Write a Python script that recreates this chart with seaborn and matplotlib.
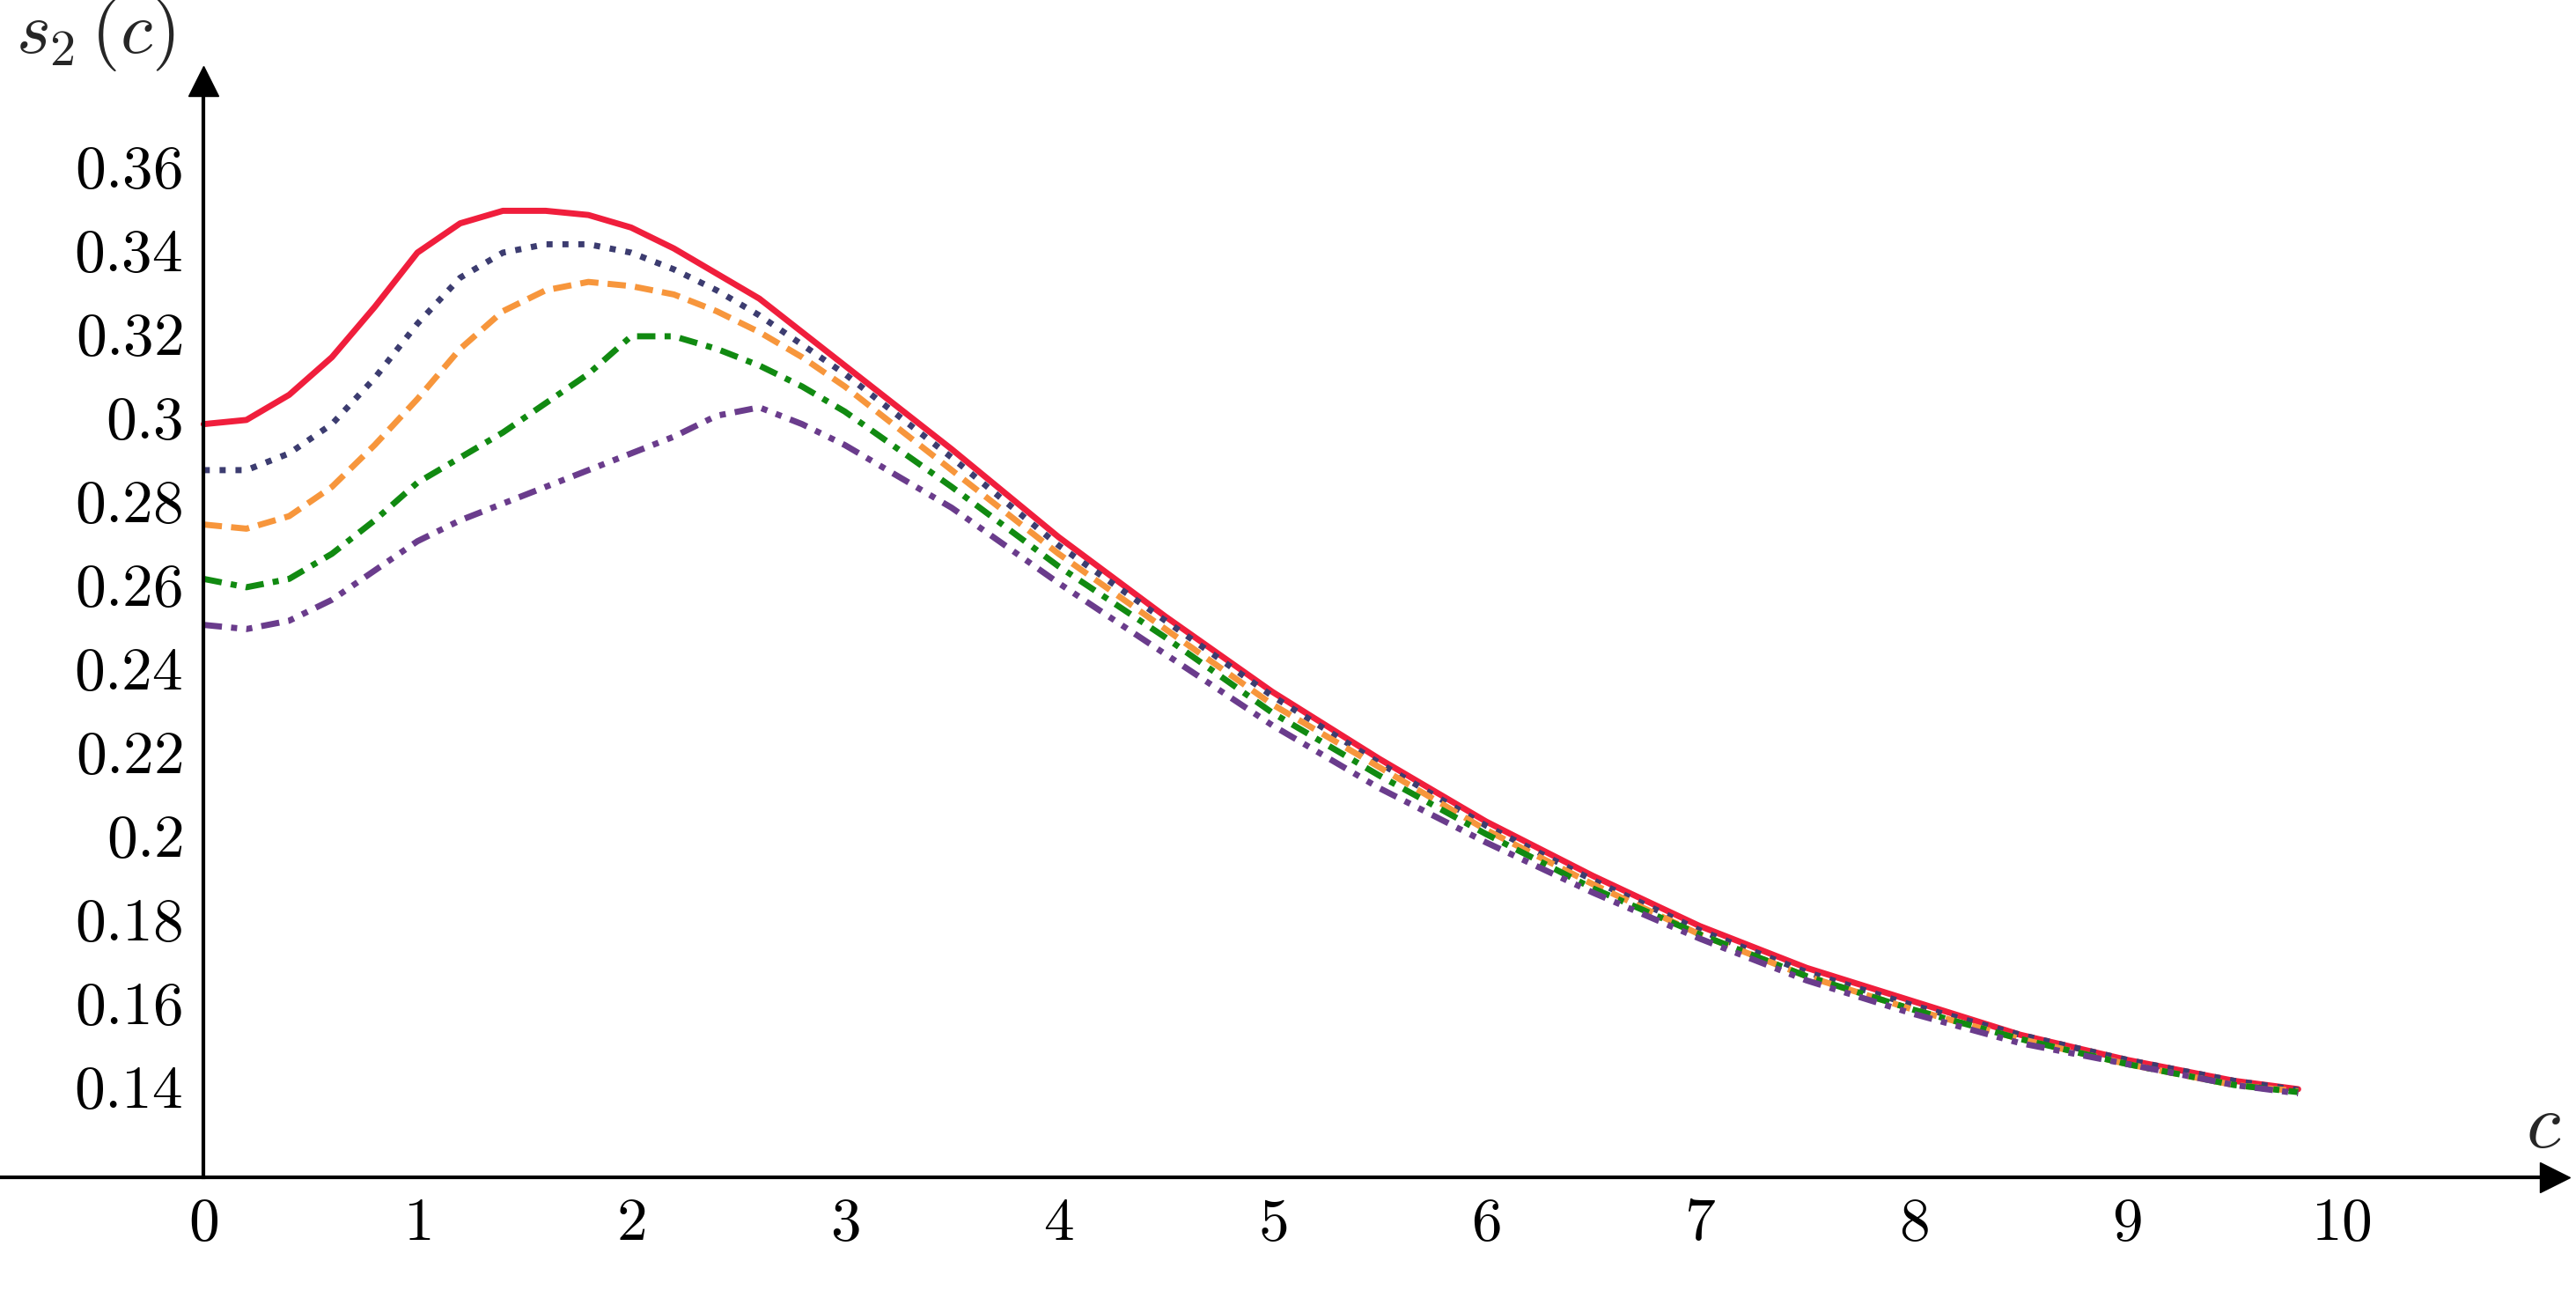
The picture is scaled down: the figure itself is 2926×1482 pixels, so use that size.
import numpy as np
import pandas as pd
import matplotlib
matplotlib.use("Agg")
import matplotlib.pyplot as plt
import seaborn as sns

sns.set_theme(style="white")
plt.rcParams['font.family'] = ['DejaVu Serif']
plt.rcParams['mathtext.fontset'] = 'cm'

c = [0, 0.2, 0.4, 0.6, 0.8, 1.0, 1.2, 1.4, 1.6, 1.8, 2.0, 2.2, 2.4, 2.6, 2.8, 3.0,
     3.5, 4, 4.5, 5, 5.5, 6, 6.5, 7, 7.5, 8, 8.5, 9, 9.5, 9.8]
s_red = [0.298, 0.299, 0.305, 0.314, 0.326, 0.339, 0.346, 0.349, 0.349, 0.348, 0.345, 0.340, 0.334, 0.328, 0.320, 0.312,
         0.292, 0.271, 0.252, 0.234, 0.218, 0.203, 0.190, 0.178, 0.168, 0.160, 0.152, 0.146, 0.141, 0.139]
s_navy = [0.287, 0.287, 0.291, 0.298, 0.309, 0.322, 0.333, 0.339, 0.341, 0.341, 0.339, 0.335, 0.330, 0.324, 0.317, 0.310,
          0.290, 0.269, 0.251, 0.233, 0.217, 0.202, 0.189, 0.177, 0.167, 0.159, 0.152, 0.146, 0.141, 0.1388]
s_orange = [0.274, 0.273, 0.276, 0.283, 0.293, 0.304, 0.316, 0.325, 0.330, 0.332, 0.331, 0.329, 0.325, 0.320, 0.314, 0.307,
            0.287, 0.267, 0.249, 0.231, 0.216, 0.201, 0.188, 0.176, 0.166, 0.158, 0.151, 0.145, 0.140, 0.1385]
s_green = [0.261, 0.259, 0.261, 0.267, 0.275, 0.284, 0.290, 0.296, 0.303, 0.310, 0.319, 0.319, 0.316, 0.312, 0.307, 0.301,
           0.283, 0.264, 0.247, 0.229, 0.214, 0.200, 0.187, 0.176, 0.166, 0.158, 0.151, 0.145, 0.140, 0.1383]
s_purple = [0.250, 0.249, 0.251, 0.256, 0.263, 0.270, 0.275, 0.279, 0.283, 0.287, 0.291, 0.295, 0.300, 0.302, 0.298, 0.293,
            0.278, 0.260, 0.243, 0.226, 0.211, 0.198, 0.186, 0.175, 0.165, 0.157, 0.150, 0.145, 0.140, 0.138]

series = [("red", s_red, "#f01e3c", "-"),
          ("navy", s_navy, "#3c3c70", (0, (1, 1.6))),
          ("orange", s_orange, "#f7963c", (0, (3, 1.5))),
          ("green", s_green, "#118a11", (0, (3, 1.5, 1, 1.5))),
          ("purple", s_purple, "#6a3c8c", (0, (3, 1.5, 1, 1.5, 1, 1.5)))]

x_ticks = [0, 1, 2, 3, 4, 5, 6, 7, 8, 9, 10]
y_ticks = [0.14, 0.16, 0.18, 0.20, 0.22, 0.24, 0.26, 0.28, 0.30, 0.32, 0.34, 0.36]
y_labels = ["0.14", "0.16", "0.18", "0.2", "0.22", "0.24", "0.26", "0.28", "0.3", "0.32", "0.34", "0.36"]

fig = plt.figure(figsize=(29.26, 14.82), dpi=100)
ax = fig.add_axes([0, 0, 1, 1])
for name, vals, col, ls in series:
    df = pd.DataFrame({"c": c, "s": vals})
    sns.lineplot(data=df, x="c", y="s", ax=ax, color=col, lw=5, linestyle=ls)

ax.set_xlim(-0.953, 11.10)
ax.set_ylim(0.0874, 0.3994)
y0 = 0.118
for s in ["top", "right"]:
    ax.spines[s].set_visible(False)
ax.spines["left"].set_position(("data", 0))
ax.spines["bottom"].set_position(("data", y0))
ax.spines["left"].set_bounds(y0, 0.380)
ax.spines["bottom"].set_bounds(-0.953, 11.0)
for s in ["left", "bottom"]:
    ax.spines[s].set_color("black")
    ax.spines[s].set_linewidth(3)
ax.plot([0], [0.380], marker="^", color="black", ms=24, clip_on=False)
ax.plot([11.0], [y0], marker=">", color="black", ms=24, clip_on=False)

ax.set_xticks(x_ticks)
ax.set_xticklabels([f"${t}$" for t in x_ticks])
ax.set_yticks(y_ticks)
ax.set_yticklabels([f"${t}$" for t in y_labels])
ax.tick_params(axis="both", direction="inout", length=22, width=3, colors="black",
               labelsize=50, pad=6)
ax.tick_params(axis="x", direction="in", length=0, pad=14)
ax.set_xlabel("")
ax.set_ylabel("")
ax.text(-0.88, 0.382, r"$s_2\,(c)$", fontsize=60, ha="left", va="bottom")
ax.text(10.95, 0.121, r"$c$", fontsize=64, ha="center", va="bottom")

fig.savefig("out.png", dpi=100)
